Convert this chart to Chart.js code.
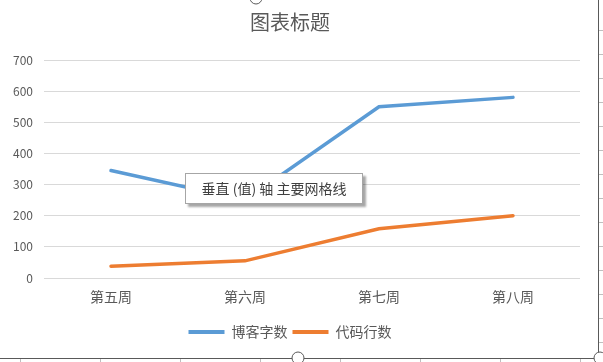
<!DOCTYPE html>
<html>
<head>
<meta charset="utf-8">
<script src="https://cdn.jsdelivr.net/npm/chart.js@4"></script>
<style>
  html, body { margin: 0; padding: 0; background: #fff; }
  #wrap { position: relative; width: 603px; height: 362px; }
  #tip {
    position: absolute; left: 185px; top: 173px; width: 176px; height: 29px;
    border: 1px solid #a6a6a6; background: #fff;
    box-shadow: 3px 3px 2px rgba(0,0,0,0.35);
    font: 14px "Noto Sans CJK SC", sans-serif; color: #404040;
    line-height: 29px; text-align: center;
  }
</style>
</head>
<body>
<div id="wrap">
  <canvas id="lineChart" width="603" height="362"></canvas>
  <div id="tip">垂直 (值) 轴 主要网格线</div>
</div>
<script>
// 数据
const WEEKS = ["第五周", "第六周", "第七周", "第八周"];
const BLOG_WORDS = [345, 250, 550, 580];
const CODE_LINES = [38, 55, 158, 200];
const Y_TICKS = [0, 100, 200, 300, 400, 500, 600, 700];

const FONT = '"Noto Sans CJK SC", sans-serif';
const TEXT_COLOR = "#595959";

// 外框 (Excel 选中边框)
const framePlugin = {
    id: "frame",
    afterDraw(chart) {
        const ctx = chart.ctx;
        ctx.save();
        ctx.strokeStyle = "#595959";
        ctx.lineWidth = 1;
        ctx.beginPath();
        ctx.moveTo(598.5, 0);
        ctx.lineTo(598.5, 358.5);
        ctx.lineTo(0, 358.5);
        ctx.stroke();
        ctx.strokeStyle = "#bfbfbf";
        ctx.beginPath();
        for (let y = 30; y < 355; y += 24) {
            ctx.moveTo(599, y + 0.5);
            ctx.lineTo(603, y + 0.5);
        }
        for (let x = 20; x < 595; x += 80) {
            ctx.moveTo(x + 0.5, 359);
            ctx.lineTo(x + 0.5, 362);
        }
        ctx.stroke();
        ctx.strokeStyle = "#595959";
        ctx.fillStyle = "#fff";
        [[298, 358], [600, 358], [256, -2]].forEach(function (p) {
            ctx.beginPath();
            ctx.arc(p[0], p[1], 6, 0, Math.PI * 2);
            ctx.fill();
            ctx.stroke();
        });
        ctx.restore();
    },
};

const ctx = document.getElementById("lineChart").getContext("2d");
new Chart(ctx, {
    type: "line",
    data: {
        labels: WEEKS,
        datasets: [
            {
                label: "博客字数",
                data: BLOG_WORDS,
                borderColor: "#5B9BD5",
                backgroundColor: "#5B9BD5",
                borderWidth: 3.5,
                pointRadius: 0,
                borderCapStyle: "round",
                tension: 0,
            },
            {
                label: "代码行数",
                data: CODE_LINES,
                borderColor: "#ED7D31",
                backgroundColor: "#ED7D31",
                borderWidth: 3.5,
                pointRadius: 0,
                borderCapStyle: "round",
                tension: 0,
            },
        ],
    },
    options: {
        responsive: false,
        animation: false,
        layout: {
            padding: { left: 0, right: 23, top: 10, bottom: 13 },
        },
        scales: {
            x: {
                offset: true,
                afterFit(scale) {
                    scale.height = 42;
                },
                grid: { display: false },
                border: { display: false },
                ticks: {
                    color: TEXT_COLOR,
                    font: { family: FONT, size: 14 },
                    padding: 2,
                },
            },
            y: {
                min: 0,
                max: 700,
                afterFit(scale) {
                    scale.width = 44;
                },
                afterBuildTicks(scale) {
                    scale.ticks = Y_TICKS.map((v) => ({ value: v }));
                },
                grid: { color: "#D9D9D9", drawTicks: false },
                border: { display: false },
                ticks: {
                    color: TEXT_COLOR,
                    font: { family: FONT, size: 12 },
                    padding: 11,
                },
            },
        },
        plugins: {
            title: {
                display: true,
                text: "图表标题",
                color: TEXT_COLOR,
                font: { family: FONT, size: 20, weight: "normal" },
                padding: { top: 0, bottom: 26 },
            },
            legend: {
                position: "bottom",
                labels: {
                    color: TEXT_COLOR,
                    font: { family: FONT, size: 14 },
                    boxWidth: 36,
                    boxHeight: 4,
                    padding: 5,
                    generateLabels(chart) {
                        const items = Chart.defaults.plugins.legend.labels.generateLabels(chart);
                        items.forEach((it) => { it.lineWidth = 0; });
                        return items;
                    },
                },
            },
            tooltip: { enabled: false },
        },
    },
    plugins: [framePlugin],
});
</script>
</body>
</html>
